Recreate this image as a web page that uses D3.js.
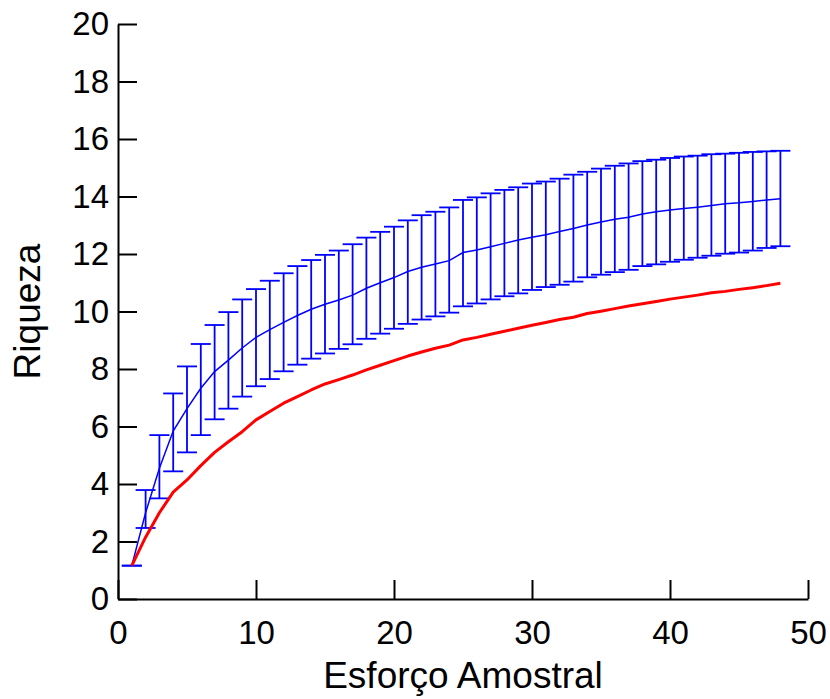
<!DOCTYPE html>
<html>
<head>
<meta charset="utf-8">
<script src="https://cdnjs.cloudflare.com/ajax/libs/d3/7.8.5/d3.min.js"></script>
<style>
  body { margin: 0; background: #fff; }
  text { font-family: "Liberation Sans", Arial, sans-serif; }
</style>
</head>
<body>
<div id="chart"></div>
<script>
var esforco = [1, 2, 3, 4, 5, 6, 7, 8, 9, 10, 11, 12, 13, 14, 15, 16, 17, 18, 19, 20,
    21, 22, 23, 24, 25, 26, 27, 28, 29, 30, 31, 32, 33, 34, 35, 36, 37, 38, 39, 40,
    41, 42, 43, 44, 45, 46, 47, 48];

// riqueza media (azul)
var media = [1.16, 3.0, 4.55, 5.84, 6.62, 7.33, 7.91, 8.31, 8.73, 9.10, 9.37, 9.62, 9.86, 10.08,
    10.25, 10.40, 10.57, 10.81, 11.00, 11.18, 11.39, 11.54, 11.65, 11.77, 12.05, 12.14, 12.25,
    12.37, 12.49, 12.58, 12.67, 12.78, 12.89, 13.01, 13.11, 13.21, 13.28, 13.39, 13.47, 13.53,
    13.58, 13.63, 13.69, 13.75, 13.78, 13.83, 13.88, 13.92];

var superior = [1.16, 3.79, 5.70, 7.15, 8.09, 8.87, 9.53, 9.98, 10.42, 10.78, 11.07, 11.33, 11.58,
    11.79, 11.97, 12.12, 12.34, 12.57, 12.77, 12.95, 13.17, 13.35, 13.47, 13.62, 13.88, 13.97,
    14.11, 14.23, 14.32, 14.45, 14.52, 14.62, 14.76, 14.86, 14.97, 15.07, 15.15, 15.23, 15.28,
    15.34, 15.39, 15.42, 15.47, 15.49, 15.52, 15.55, 15.57, 15.59];

var inferior = [1.16, 2.47, 3.50, 4.44, 5.10, 5.70, 6.25, 6.62, 7.04, 7.40, 7.65, 7.92, 8.15, 8.36,
    8.54, 8.70, 8.86, 9.05, 9.23, 9.40, 9.57, 9.72, 9.83, 9.96, 10.18, 10.28, 10.42, 10.53, 10.63,
    10.75, 10.85, 10.93, 11.04, 11.19, 11.28, 11.37, 11.45, 11.58, 11.64, 11.73, 11.80, 11.87,
    11.94, 12.01, 12.05, 12.12, 12.21, 12.27];

// curva vermelha
var vermelha = [1.16, 2.15, 3.0, 3.72, 4.14, 4.64, 5.10, 5.47, 5.82, 6.23, 6.52, 6.81, 7.04, 7.27,
    7.48, 7.63, 7.79, 7.97, 8.13, 8.29, 8.45, 8.59, 8.72, 8.83, 9.01, 9.10, 9.21, 9.31, 9.42, 9.52,
    9.62, 9.72, 9.80, 9.93, 10.01, 10.10, 10.19, 10.27, 10.35, 10.43, 10.50, 10.57, 10.65, 10.70,
    10.77, 10.83, 10.90, 10.98];

var xTicks = [0, 10, 20, 30, 40, 50];
var yTicks = [0, 2, 4, 6, 8, 10, 12, 14, 16, 18, 20];

var width = 830, height = 699;

var svg = d3.select("#chart").append("svg")
    .attr("width", width)
    .attr("height", height);

var x = d3.scaleLinear().domain([0, 50]).range([118, 808]);
var y = d3.scaleLinear().domain([0, 20]).range([599, 24]);

var azul = "#0000ff";
var capHalf = 10;

// barras de erro
var bars = svg.append("g").attr("class", "errorbars")
    .selectAll("g")
    .data(esforco)
    .enter().append("g");

bars.append("line")
    .attr("x1", function (d) { return x(d); })
    .attr("x2", function (d) { return x(d); })
    .attr("y1", function (d, i) { return y(inferior[i]); })
    .attr("y2", function (d, i) { return y(superior[i]); })
    .style("stroke", azul)
    .style("stroke-width", 1.8);

bars.append("line")
    .attr("x1", function (d) { return x(d) - capHalf; })
    .attr("x2", function (d) { return x(d) + capHalf; })
    .attr("y1", function (d, i) { return y(superior[i]); })
    .attr("y2", function (d, i) { return y(superior[i]); })
    .style("stroke", azul)
    .style("stroke-width", 1.8);

bars.append("line")
    .attr("x1", function (d) { return x(d) - capHalf; })
    .attr("x2", function (d) { return x(d) + capHalf; })
    .attr("y1", function (d, i) { return y(inferior[i]); })
    .attr("y2", function (d, i) { return y(inferior[i]); })
    .style("stroke", azul)
    .style("stroke-width", 1.8);

var line = d3.line()
    .x(function (d) { return x(d[0]); })
    .y(function (d) { return y(d[1]); });

svg.append("path")
    .datum(esforco.map(function (d, i) { return [d, media[i]]; }))
    .attr("d", line)
    .style("fill", "none")
    .style("stroke", azul)
    .style("stroke-width", 1.5);

svg.append("path")
    .datum(esforco.map(function (d, i) { return [d, vermelha[i]]; }))
    .attr("d", line)
    .style("fill", "none")
    .style("stroke", "#ff0000")
    .style("stroke-width", 3)
    .style("stroke-linejoin", "round");

// eixos
var xAxis = d3.axisBottom(x)
    .tickValues(xTicks)
    .tickSizeInner(-19)
    .tickSizeOuter(0)
    .tickPadding(22);

var yAxis = d3.axisLeft(y)
    .tickValues(yTicks)
    .tickSizeInner(-19)
    .tickSizeOuter(0)
    .tickPadding(9);

var gx = svg.append("g")
    .attr("transform", "translate(0," + y(0) + ")")
    .call(xAxis);

var gy = svg.append("g")
    .attr("transform", "translate(" + x(0) + ",0)")
    .call(yAxis);

[gx, gy].forEach(function (g) {
    g.select(".domain").style("stroke", "#000").style("stroke-width", 2);
    g.selectAll(".tick line").style("stroke", "#000").style("stroke-width", 2);
    g.selectAll(".tick text")
        .style("fill", "#000")
        .style("font-size", "33px")
        .style("font-family", "'Liberation Sans', Arial, sans-serif");
});

svg.append("text")
    .attr("x", (x(0) + x(50)) / 2)
    .attr("y", 688)
    .style("text-anchor", "middle")
    .style("font-size", "37px")
    .text("Esforço Amostral");

svg.append("text")
    .attr("transform", "translate(40," + (y(0) + y(20)) / 2 + ") rotate(-90)")
    .style("text-anchor", "middle")
    .style("font-size", "37px")
    .text("Riqueza");
</script>
</body>
</html>
